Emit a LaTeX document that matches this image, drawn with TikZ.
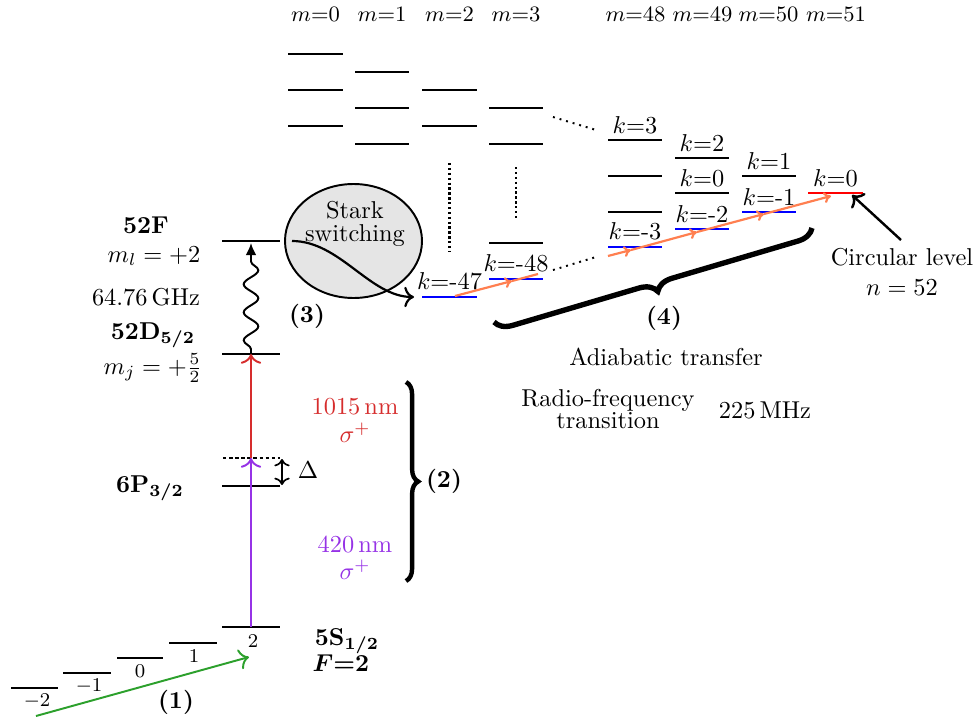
\documentclass[tikz,border=0pt]{standalone}
\usepackage{amsmath,bm}
\usetikzlibrary{decorations.pathmorphing,decorations.pathreplacing,arrows.meta,shapes.geometric}
\definecolor{myred}{RGB}{214,45,45}
\definecolor{mypurple}{RGB}{150,50,230}
\definecolor{mygreen}{RGB}{44,160,44}
\definecolor{myorange}{RGB}{255,127,80}
\begin{document}
\begin{tikzpicture}[x=0.41pt,y=-0.41pt,
  lvl/.style={line width=1pt},
  bluelvl/.style={line width=1pt,blue},
  redlvl/.style={line width=1pt,red},
  klab/.style={above,inner sep=2.5pt},
  txt/.style={inner sep=0pt},
  arr/.style={line width=0.8pt,-{To[length=4pt]}},
  orarr/.style={line width=0.9pt,myorange,-{To[length=3pt,width=4.5pt]}},
  bigbrace/.style={decorate,line width=1.8pt}]
\useasboundingbox (0,0) rectangle (976,720);

% ---- top m labels
\foreach \x/\m in {315.5/0,382/1,449.5/2,516/3,635.5/48,702.5/49,768.5/50,836/51}
  \node[txt,font=\fontsize{9.4pt}{11pt}\selectfont] (mlab\m) at (\x,14) {$m{=}\m$};

% ---- left ladder levels
\foreach \y in {54,90,126} \draw[lvl] (288,\y) -- (343,\y);
\foreach \y in {72,108,144} \draw[lvl] (355,\y) -- (409,\y);
\foreach \y in {90,126} \draw[lvl] (422,\y) -- (477,\y);
\foreach \y in {108,144,243} \draw[lvl] (489,\y) -- (543,\y);
\draw[bluelvl] (422,297) -- (477,297);
\draw[bluelvl] (489,279) -- (543,279);
\node[klab] (km47) at (449.5,297) {$k{=}$-47};
\node[klab] (km48) at (516,279) {$k{=}$-48};
\draw[line width=1pt,densely dotted] (449.5,163) -- (449.5,252);
\draw[line width=1pt,densely dotted] (516,167) -- (516,218);
\draw[line width=0.8pt,dotted] (553,117) -- (596,130);
\draw[line width=0.8pt,dotted] (553,270) -- (596,257);

% ---- right ladder levels
\foreach \y in {140,176,212} \draw[lvl] (608,\y) -- (662,\y);
\draw[bluelvl] (608,247) -- (662,247);
\foreach \y in {158,193} \draw[lvl] (675,\y) -- (729,\y);
\draw[bluelvl] (675,229) -- (729,229);
\draw[lvl] (742,176) -- (796,176);
\draw[bluelvl] (742,212) -- (796,212);
\draw[redlvl] (808,193) -- (863,193);
\node[klab] (k3) at (635,140) {$k{=}3$};
\node[klab] (km3) at (635,247) {$k{=}$-3};
\node[klab] (k2) at (702,158) {$k{=}2$};
\node[klab] (k0a) at (702,193) {$k{=}0$};
\node[klab] (km2) at (702,229) {$k{=}$-2};
\node[klab] (k1) at (769,176) {$k{=}1$};
\node[klab] (km1) at (769,212) {$k{=}$-1};
\node[klab] (k0b) at (835.5,193) {$k{=}0$};

% ---- orange adiabatic arrows
\coordinate (p0) at (455,296);
\coordinate (p1) at (512,281);
\coordinate (p2) at (538,274);
\coordinate (q0) at (608,256);
\coordinate (q1) at (631,250);
\coordinate (q2) at (697,232);
\coordinate (q3) at (764,214);
\coordinate (q4) at (831,196);
\draw[orarr] (p0) -- (p1);
\draw[line width=0.9pt,myorange] (p1) -- (p2);
\draw[orarr] (q0) -- (q1);
\draw[orarr] (q1) -- (q2);
\draw[orarr] (q2) -- (q3);
\draw[orarr] (q3) -- (q4);

% ---- circular level
\node[txt,align=center] (circ) at (902,272) {Circular level\\$n=52$};
\coordinate (circA) at (901,240);
\coordinate (circB) at (852,195);
\draw[arr,line width=1pt] (circA) -- (circB);

% ---- brace (4)
\coordinate (b4a) at (812,228);
\coordinate (b4b) at (494,322);
\draw[bigbrace,line width=2.2pt,decoration={brace,amplitude=7pt}] (b4a) -- (b4b);
\node[txt,font=\bfseries] (lab4) at (664,318) {(4)};
\node[txt] (adia) at (666,357) {Adiabatic transfer};
\node[txt,align=center] (rf) at (608,409) {Radio-frequency\\[-3pt]transition};
\node[txt] (mhz) at (765,410) {225\,MHz};

% ---- Stark switching
\node[draw,ellipse,fill=gray!20,line width=0.8pt,minimum width=137*0.41pt,minimum height=114*0.41pt,inner sep=0pt] (stark) at (353.5,241) {};
\node[txt] (starkA) at (355,210) {Stark};
\node[txt] (starkB) at (355,236) {switching};
\coordinate (sA) at (292,241);
\coordinate (sB) at (414,297);
\draw[line width=0.9pt,-{To[length=4pt]}] (sA) .. controls (340,241) and (370,297) .. (sB);
\node[txt,font=\bfseries] (lab3) at (307,316) {(3)};

% ---- left levels
\draw[lvl] (222,241) -- (280,241);
\draw[lvl] (222,354) -- (280,354);
\draw[lvl,dash pattern=on 1.4pt off 1.1pt] (223,458) -- (280,458);
\draw[lvl] (222,486) -- (280,486);
\draw[lvl] (222,627) -- (280,627);
\draw[lvl] (169,643) -- (217,643);
\draw[lvl] (117,658) -- (163,658);
\draw[lvl] (63,673) -- (111,673);
\draw[lvl] (11,688) -- (58,688);

\node[txt,font=\footnotesize] (n2) at (253,641) {$2$};
\node[txt,font=\footnotesize] (n1) at (194,656) {$1$};
\node[txt,font=\footnotesize] (n0) at (140,671) {$0$};
\node[txt,font=\footnotesize] (nm1) at (89,686) {$-1$};
\node[txt,font=\footnotesize] (nm2) at (37,701) {$-2$};

\node[txt] (f52) at (146,225) {\textbf{52F}};
\node[txt] (ml) at (154,256) {$m_l = +2$};
\node[txt] (ghz) at (146,297) {64.76\,GHz};
\node[txt] (d52) at (153,335) {\textbf{52D}$_{\bm{5/2}}$};
\node[txt] (mj) at (153,368) {$m_j = +\frac{5}{2}$};
\node[txt] (p6) at (150,488) {\textbf{6P}$_{\bm{3/2}}$};
\node[txt] (s5) at (347,641) {\textbf{5S}$_{\bm{1/2}}$};
\node[txt] (F2) at (341,663) {$\bm{F{=}2}$};
\node[txt,font=\bfseries] (lab1) at (176,702) {(1)};

% transitions
\coordinate (tS) at (251,627);
\coordinate (tV) at (251,458);
\coordinate (tD) at (251,354);
\coordinate (tF) at (251,243);
\draw[arr,mypurple] (tS) -- (tV);
\draw[arr,myred] (tV) -- (tD);
\draw[line width=0.8pt,-{Latex[length=5pt,width=4.5pt]},decorate,decoration={snake,amplitude=3pt,segment length=11.5pt,pre length=2pt,post length=5pt}] (tD) -- (tF);

\coordinate (dA) at (282,459);
\coordinate (dB) at (282,485);
\draw[line width=0.7pt,{To[length=3pt]}-{To[length=3pt]}] (dA) -- (dB);
\node[txt] (delta) at (308,470) {$\Delta$};

\node[txt,myred] (nm1015) at (355,407) {1015\,nm};
\node[txt,myred] (sig1) at (355,433) {$\sigma^+$};
\node[txt,mypurple] (nm420) at (355,545) {420\,nm};
\node[txt,mypurple] (sig2) at (355,570) {$\sigma^+$};

\coordinate (b2a) at (406,382);
\coordinate (b2b) at (406,581);
\draw[bigbrace,decoration={brace,amplitude=5pt}] (b2a) -- (b2b);
\node[txt,font=\bfseries] (lab2) at (444,481) {(2)};

\coordinate (gA) at (36,716);
\coordinate (gB) at (249,657);
\draw[arr,mygreen] (gA) -- (gB);
\end{tikzpicture}
\end{document}
